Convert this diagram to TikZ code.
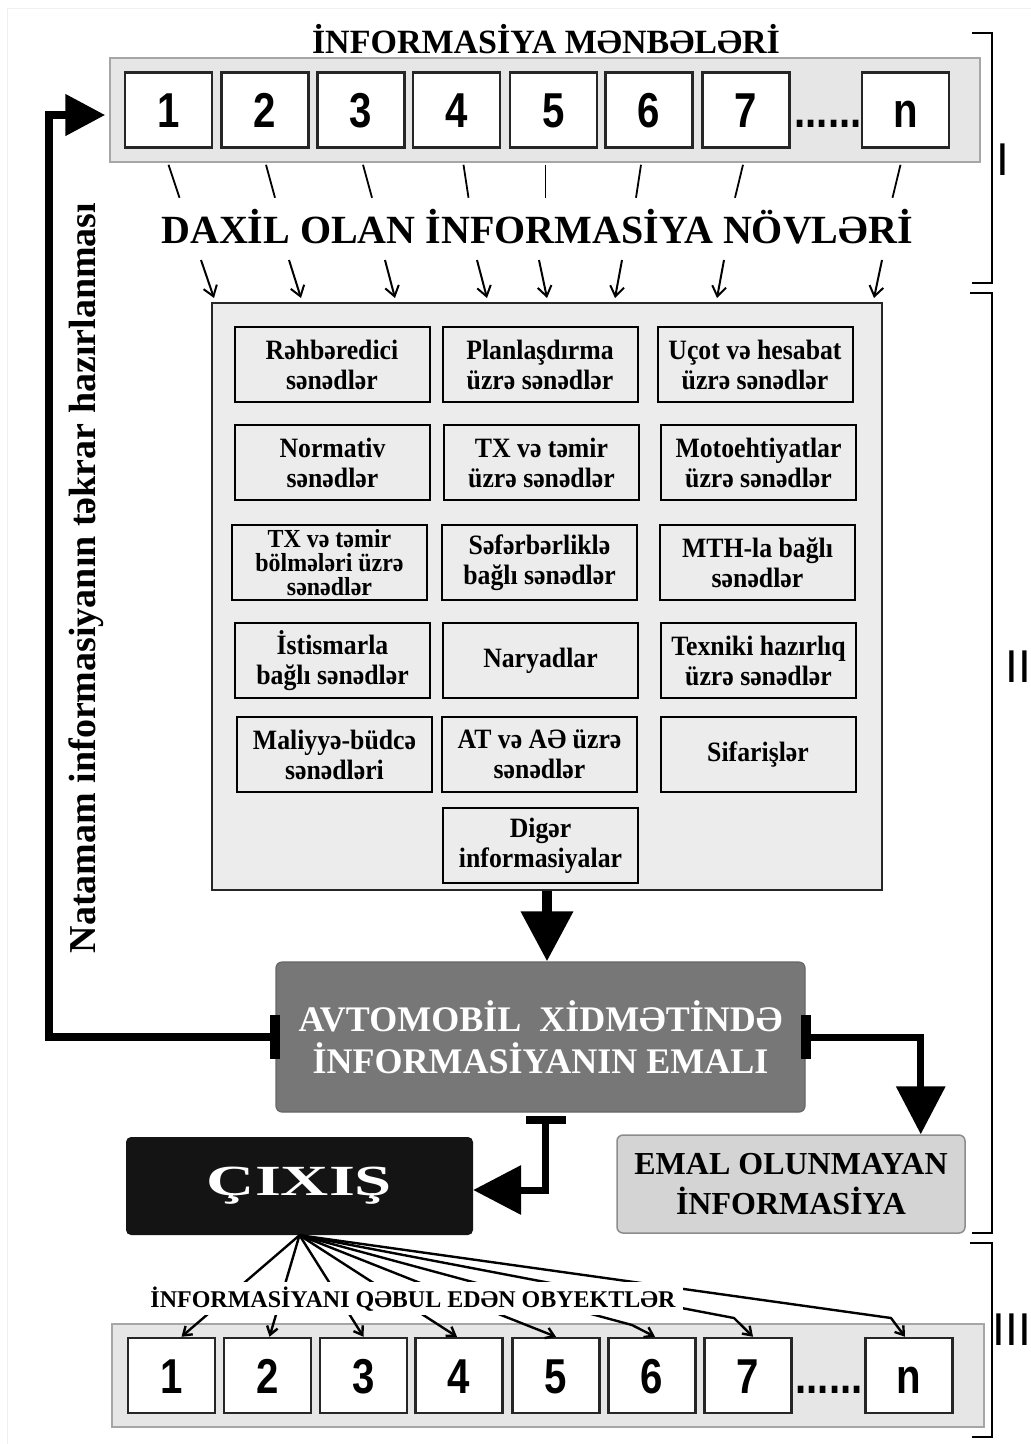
\documentclass[tikz,border=0pt]{standalone}
\usepackage{fontspec}
\setmainfont{Liberation Serif}
\newfontfamily\numfont{Liberation Sans}
\newfontfamily\numnarrow[FakeStretch=0.82]{Liberation Sans}
\newfontfamily\boxfont[FakeStretch=0.92]{Liberation Serif}
\newfontfamily\widefont[FakeStretch=1.55]{Liberation Serif}
\usetikzlibrary{arrows.meta}
\definecolor{stripgray}{HTML}{E6E6E6}
\definecolor{panelgray}{HTML}{ECECEC}
\definecolor{procgray}{HTML}{777777}
\definecolor{lossgray}{HTML}{D4D4D4}
\begin{document}
\begin{tikzpicture}[x=1pt, y=-1pt,
    numbox/.style={draw=black!85, line width=2.5pt, fill=white, minimum width=87pt, minimum height=75pt, inner sep=0pt, text height=35pt, text depth=0pt, font=\numnarrow\bfseries\fontsize{49}{49}\selectfont},
    dots/.style={anchor=base, inner sep=0pt, font=\numnarrow\bfseries\fontsize{49}{49}\selectfont},
    stripbox/.style={draw=gray!70, line width=1.5pt, fill=stripgray, minimum width=870pt, minimum height=104pt, inner sep=0pt},
    docbox/.style={draw=black, line width=2pt, fill=panelgray, minimum width=195pt, minimum height=75pt, inner sep=2pt, align=center, font=\boxfont\bfseries\fontsize{28}{30}\selectfont},
    hdr/.style={anchor=base, inner sep=0pt, font=\bfseries\fontsize{34}{34}\selectfont},
    thinline/.style={line width=1.8pt},
    barb/.style={line width=2pt, -{Straight Barb[length=10pt,width=14pt]}},
    fan/.style={line width=2.4pt, -{Straight Barb[length=8pt,width=11pt]}},
    stub/.style={fill=black, inner sep=0pt},
    bracket/.style={line width=2.2pt},
    secnum/.style={font=\numfont\fontsize{46}{46}\selectfont, inner sep=0pt}
]
    \useasboundingbox (0,0) rectangle (1031,1444);
    \draw[gray!12] (7,1444) -- (7,8) -- (1031,8);

    % Information sources (top row)
    \node[hdr] (srctitle) at (546,53) {İNFORMASİYA MƏNBƏLƏRİ};
    \node[stripbox] (tstrip) at (545,110) {};
    \node[numbox] (t1) at (168.5,110) {1};
    \node[numbox] (t2) at (265,110) {2};
    \node[numbox] (t3) at (361,110) {3};
    \node[numbox] (t4) at (456.5,110) {4};
    \node[numbox] (t5) at (553.5,110) {5};
    \node[numbox] (t6) at (649,110) {6};
    \node[numbox] (t7) at (746,110) {7};
    \node[numbox] (tn) at (905.5,110) {n};
    \node[dots] (tdots) at (828,127) {......};

    % Short strokes under the sources
    \draw[thinline] ([yshift=-16pt]t1.south) -- ++(11,33);
    \draw[thinline] ([xshift=1pt,yshift=-16pt]t2.south) -- ++(9,33);
    \draw[thinline] ([xshift=2pt,yshift=-16pt]t3.south) -- ++(9,33);
    \draw[thinline] ([xshift=7pt,yshift=-16pt]t4.south) -- ++(5,33);
    \draw[thinline] ([xshift=-8pt,yshift=-16pt]t5.south) -- ++(0,33);
    \draw[thinline] ([xshift=-8pt,yshift=-16pt]t6.south) -- ++(-5,33);
    \draw[thinline] ([xshift=-3pt,yshift=-16pt]t7.south) -- ++(-8,33);
    \draw[thinline] ([xshift=-5pt,yshift=-16pt]tn.south) -- ++(-8,33);

    \node[hdr, font=\bfseries\fontsize{40}{40}\selectfont] (intitle) at (537,243) {DAXİL OLAN İNFORMASİYA NÖVLƏRİ};

    % Incoming arrows
    \coordinate (d1) at (214,298);
    \coordinate (d2) at (301,298);
    \coordinate (d3) at (395,298);
    \coordinate (d4) at (487,298);
    \coordinate (d5) at (547,298);
    \coordinate (d6) at (615,298);
    \coordinate (d7) at (717,298);
    \coordinate (dn) at (874,298);
    \draw[barb] ([xshift=-13pt,yshift=38pt]d1) -- (d1);
    \draw[barb] ([xshift=-12pt,yshift=38pt]d2) -- (d2);
    \draw[barb] ([xshift=-10pt,yshift=38pt]d3) -- (d3);
    \draw[barb] ([xshift=-10pt,yshift=38pt]d4) -- (d4);
    \draw[barb] ([xshift=-8pt,yshift=38pt]d5) -- (d5);
    \draw[barb] ([xshift=7pt,yshift=38pt]d6) -- (d6);
    \draw[barb] ([xshift=7pt,yshift=38pt]d7) -- (d7);
    \draw[barb] ([xshift=8pt,yshift=38pt]dn) -- (dn);

    % Document types panel
    \node[draw=black!85, line width=2.5pt, fill=panelgray, minimum width=670pt, minimum height=587pt, inner sep=0pt] (cont) at (547,596.5) {};
    \node[docbox] (doc11) at (332,364.5) {Rəhbəredici\\sənədlər};
    \node[docbox] (doc12) at (540,364.5) {Planlaşdırma\\üzrə sənədlər};
    \node[docbox] (doc13) at (755,364.5) {Uçot və hesabat\\üzrə sənədlər};
    \node[docbox] (doc21) at (332.5,462.5) {Normativ\\sənədlər};
    \node[docbox] (doc22) at (541.5,462.5) {TX və təmir\\üzrə sənədlər};
    \node[docbox] (doc23) at (758.5,462.5) {Motoehtiyatlar\\üzrə sənədlər};
    \node[docbox, font=\boxfont\bfseries\fontsize{26}{24}\selectfont] (doc31) at (329.5,562.5) {TX və təmir\\bölmələri üzrə\\sənədlər};
    \node[docbox] (doc32) at (539.5,562.5) {Səfərbərliklə\\bağlı sənədlər};
    \node[docbox] (doc33) at (757.5,562.5) {MTH-la bağlı\\sənədlər};
    \node[docbox] (doc41) at (332.5,660.5) {İstismarla\\bağlı sənədlər};
    \node[docbox] (doc42) at (540.5,660.5) {Naryadlar};
    \node[docbox] (doc43) at (758.5,660.5) {Texniki hazırlıq\\üzrə sənədlər};
    \node[docbox] (doc51) at (334.5,754.5) {Maliyyə-büdcə\\sənədləri};
    \node[docbox] (doc52) at (539.5,754.5) {AT və AƏ üzrə\\sənədlər};
    \node[docbox] (doc53) at (758,754.5) {Sifarişlər};
    \node[docbox] (doc62) at (540.5,845.5) {Digər\\informasiyalar};

    % Processing block
    \node[draw=black!60, line width=1.2pt, fill=procgray, rounded corners=6pt, minimum width=529pt, minimum height=150pt, align=center, text=white, font=\bfseries\fontsize{36}{42}\selectfont] (proc) at (540.5,1037) {AVTOMOBİL\enspace XİDMƏTİNDƏ\\İNFORMASİYANIN EMALI};
    \node[stub, minimum width=10pt, minimum height=44pt] (stubL) at (proc.west) {};
    \node[stub, minimum width=10pt, minimum height=44pt] (stubR) at (proc.east) {};
    \node[stub, minimum width=40pt, minimum height=8pt] (stubB) at ([xshift=5pt,yshift=-7pt]proc.south) {};

    \node[draw=black!45, line width=1.5pt, fill=lossgray, rounded corners=6pt, minimum width=348pt, minimum height=98pt, align=center, font=\bfseries\fontsize{32}{40}\selectfont] (emal) at (791,1184) {EMAL OLUNMAYAN\\İNFORMASİYA};
    \node[fill=black!92, rounded corners=5pt, minimum width=347pt, minimum height=98pt, text=white, font=\widefont\bfseries\fontsize{43}{43}\selectfont] (cixis) at (299.5,1186) {ÇIXIŞ};

    % Thick flows
    \draw[line width=10pt, -{Triangle[length=50pt,width=50pt]}] (cont.south) -- (cont.south |- proc.north);
    \draw[line width=8pt, -{Triangle[length=40pt,width=40pt]}, shorten >=4pt] (stubL.west) -- ++(-221,0) |- ([yshift=-5pt]tstrip.west);
    \draw[line width=7pt, -{Triangle[length=48pt,width=48pt]}] (stubR.east) -| ([xshift=-45pt]emal.north east);
    \draw[line width=7pt, -{Triangle[length=48pt,width=48pt]}] (stubB.south) |- ([yshift=-4pt]cixis.east);

    \node[rotate=90, anchor=base, inner sep=0pt, font=\bfseries\fontsize{38}{38}\selectfont] (retry) at (95,578) {Natamam informasiyanın təkrar hazırlanması};

    % Receiving objects (bottom row)
    \node[stripbox, minimum width=872pt, minimum height=103pt] (bstrip) at (548,1375.5) {};
    \node[numbox] (b1) at (171.5,1375.5) {1};
    \node[numbox] (b2) at (267.5,1375.5) {2};
    \node[numbox] (b3) at (363.5,1375.5) {3};
    \node[numbox] (b4) at (459,1375.5) {4};
    \node[numbox] (b5) at (556,1375.5) {5};
    \node[numbox] (b6) at (652,1375.5) {6};
    \node[numbox] (b7) at (748,1375.5) {7};
    \node[numbox] (bn) at (909,1375.5) {n};
    \node[dots] (bdots) at (829,1393) {......};

    % Fan from output
    \coordinate (k6) at (632,1325);
    \coordinate (k7) at (734,1318);
    \coordinate (kn) at (891,1318);
    \draw[fan] (cixis.south) -- ([xshift=10pt]b1.north);
    \draw[fan] (cixis.south) -- ([xshift=2pt]b2.north);
    \draw[fan] (cixis.south) -- (b3.north);
    \draw[fan] (cixis.south) -- ([xshift=-2pt]b4.north);
    \draw[fan] (cixis.south) -- (b5.north);
    \draw[fan] (cixis.south) -- (k6) -- ([xshift=3pt]b6.north);
    \draw[fan] (cixis.south) -- (k7) -- ([xshift=5pt]b7.north);
    \draw[fan] (cixis.south) -- (kn) -- ([xshift=-4pt]bn.north);
    \node[hdr, fill=white, inner xsep=7pt, inner ysep=4pt, font=\bfseries\fontsize{24}{24}\selectfont] (objtitle) at (413,1307) {İNFORMASİYANI QƏBUL EDƏN OBYEKTLƏR};

    % Section brackets
    \draw[bracket] (972,33) -- (992,33) -- (992,283) -- (972,283);
    \draw[bracket] (970,293) -- (992,293) -- (992,1233) -- (972,1233);
    \draw[bracket] (970,1243) -- (992,1243) -- (992,1437) -- (972,1437);
    \node[secnum] (sec1) at (1003,160) {I};
    \node[secnum] (sec2) at (1018,667) {II};
    \node[secnum, anchor=east] (sec3) at (1031,1330) {III};
\end{tikzpicture}
\end{document}
